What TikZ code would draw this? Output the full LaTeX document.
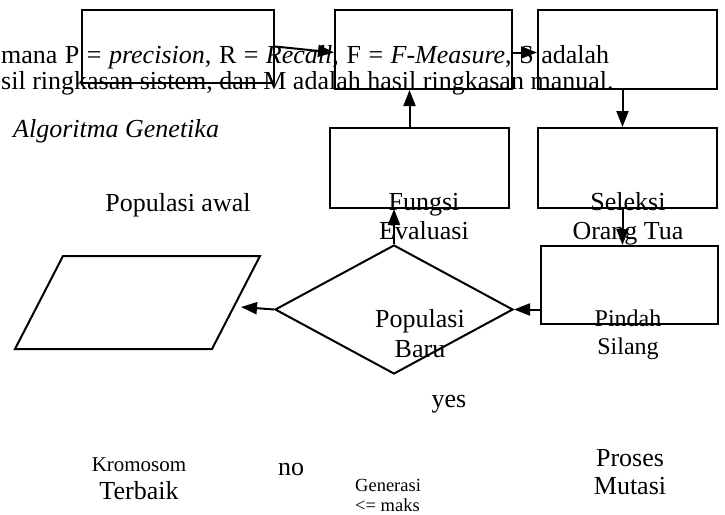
\documentclass[tikz,border=0pt]{standalone}
\usepackage{fontspec}
\setmainfont{Liberation Serif}
\usetikzlibrary{arrows.meta,shapes.geometric}

\tikzset{
  kotak/.style={draw, line width=2pt, inner sep=0pt},
  panah/.style={line width=2pt, -{Triangle[length=16pt,width=12pt]}},
  teks/.style={inner sep=0pt, font=\fontsize{26}{29}\selectfont},
  teksKecil/.style={inner sep=0pt, font=\fontsize{18.5}{20}\selectfont},
}

\begin{document}
\begin{tikzpicture}[x=1pt,y=-1pt]
    \useasboundingbox (0,0) rectangle (725,514);

    % Teks yang terpotong di latar belakang
    \node[teks, anchor=base west] (baris1) at (1,63) {\makebox[608pt][s]{mana P = \textit{precision}, R = \textit{Recall}, F = \textit{F-Measure}, S adalah}};
    \node[teks, anchor=base west] (baris2) at (1,89) {sil ringkasan sistem, dan M adalah hasil ringkasan manual.};
    \node[teks, anchor=base west] (judul) at (13,137) {\textit{Algoritma Genetika}};

    % Label langkah (anchor base = baris terakhir)
    \node[teks, anchor=base] (popAwal) at (178,211) {Populasi awal};
    \node[teks, anchor=base, align=center] (fungsi) at (424,239) {Fungsi\\Evaluasi};
    \node[teks, anchor=base, align=center] (seleksi) at (628,239) {Seleksi\\Orang Tua};
    \node[teks, anchor=base, align=center, font=\fontsize{26}{30}\selectfont] (popBaru) at (420,357) {Populasi\\Baru};
    \node[teks, anchor=base, align=center, font=\fontsize{24}{28}\selectfont] (silang) at (628,354) {Pindah\\Silang};
    \node[teks, anchor=base, align=center, font=\fontsize{26}{28}\selectfont] (mutasi) at (630,494) {Proses\\Mutasi};
    \node[teks, anchor=base] (ya) at (449,407) {yes};
    \node[teks, anchor=base] (tidak) at (291,475) {no};
    \node[teksKecil, anchor=base west, align=left] (generasi) at (355,511) {Generasi\\<= maks};
    \node[teks, anchor=base, font=\fontsize{21}{24}\selectfont] (kromosom) at (139,471) {Kromosom};
    \node[teks, anchor=base] (terbaik) at (139,499) {Terbaik};

    % Kotak-kotak proses
    \node[kotak, minimum width=192pt, minimum height=73pt] (kotakA) at (178,46.5) {};
    \node[kotak, minimum width=177pt, minimum height=79pt] (kotakB) at (423.5,49.5) {};
    \node[kotak, minimum width=179pt, minimum height=79pt] (kotakC) at (627.5,49.5) {};
    \node[kotak, minimum width=179pt, minimum height=80pt] (kotakD) at (419.5,168) {};
    \node[kotak, minimum width=179pt, minimum height=80pt] (kotakE) at (627.5,168) {};
    \node[kotak, minimum width=177pt, minimum height=78pt] (kotakF) at (629.5,285) {};

    % Belah ketupat keputusan
    \node[kotak, diamond, minimum width=238pt, minimum height=129pt] (belah) at (394,309.5) {};

    % Jajaran genjang (data)
    \draw[line width=2pt] (63,256) -- (260,256) -- (212,349) -- (15,349) -- cycle;
    \coordinate (jajarKanan) at (241,307);

    % Panah-panah
    \draw[panah] (kotakA.east) -- ([yshift=-3pt]kotakB.west);
    \draw[panah] ([yshift=-3pt]kotakB.east) -- ([yshift=-3pt]kotakC.west);
    \draw[panah] ([xshift=-5pt]kotakC.south) -- ([xshift=-5pt]kotakE.north);
    \draw[panah] ([xshift=-5pt]kotakE.south) -- ([xshift=-5pt]kotakE.south |- kotakF.north);
    \draw[panah] (belah.east -| kotakF.west) -- (belah.east);
    \draw[panah] (belah.north) -- (belah.north |- kotakD.south);
    \draw[panah] ([xshift=-10pt]kotakD.north) -- ([xshift=-10pt]kotakD.north |- kotakB.south);
    \draw[panah] (belah.west) -- (jajarKanan);

\end{tikzpicture}
\end{document}
